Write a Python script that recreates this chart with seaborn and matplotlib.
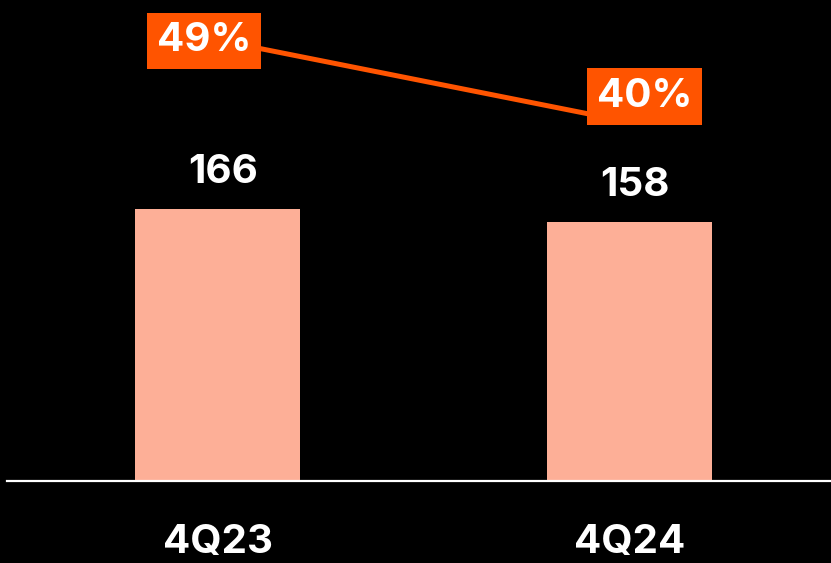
import numpy as np
import pandas as pd
import seaborn as sns
import matplotlib.pyplot as plt

quarters = ["4Q23", "4Q24"]
revenue = [166, 158]
margin_pct = [49, 40]
margin_labels = ["49%", "40%"]

bar_color = "#FDAF97"
line_color = "#FF5400"

sns.set_theme(style="dark")
plt.rcParams["font.family"] = ["Inter", "DejaVu Sans"]
plt.rcParams["font.weight"] = "bold"

df = pd.DataFrame({"quarter": quarters, "revenue": revenue, "margin": margin_pct})

fig = plt.figure(figsize=(8.31, 5.63), dpi=100, facecolor="black")
ax = fig.add_axes([7 / 831, 82 / 563, 824 / 831, 481 / 563])
ax.set_facecolor("black")

sns.barplot(data=df, x="quarter", y="revenue", color=bar_color, width=0.4,
            saturation=1, linewidth=0, edgecolor="none", ax=ax)
ax.set_xlim(-0.511, 1.489)
ax.set_ylim(0, 293.5)

# value labels above bars
for i, v in enumerate(revenue):
    ax.annotate(str(v), (i, v), xytext=(4, 13), textcoords="offset points",
                ha="center", va="bottom", color="white", fontsize=29,
                fontweight="bold")

ax.set_xlabel("")
ax.set_ylabel("")
ax.set_yticks([])
ax.tick_params(axis="x", length=0, pad=31, labelsize=29, labelcolor="white")
for lab in ax.get_xticklabels():
    lab.set_fontweight("bold")
for s in ["top", "left", "right"]:
    ax.spines[s].set_visible(False)
ax.spines["bottom"].set_color("white")
ax.spines["bottom"].set_linewidth(1.6)
ax.grid(False)

# margin line on a twin axis
ax2 = ax.twinx()
sns.lineplot(x=np.arange(len(quarters)), y=margin_pct, color=line_color,
             linewidth=3.6, ax=ax2)
ax2.set_ylim(0.6, 53.4)
ax2.set_yticks([])
ax2.grid(False)
for s in ax2.spines.values():
    s.set_visible(False)

offsets = [(-9.5, -0.5), (11, 18.5)]
for i, (v, lab) in enumerate(zip(margin_pct, margin_labels)):
    ax2.annotate(lab, (i, v), xytext=offsets[i], textcoords="offset points",
                 ha="center", va="center", color="white", fontsize=29,
                 fontweight="bold",
                 bbox=dict(boxstyle="square,pad=0.24", fc=line_color, ec="none"))

fig.savefig("out.png", dpi=100, facecolor="black")
